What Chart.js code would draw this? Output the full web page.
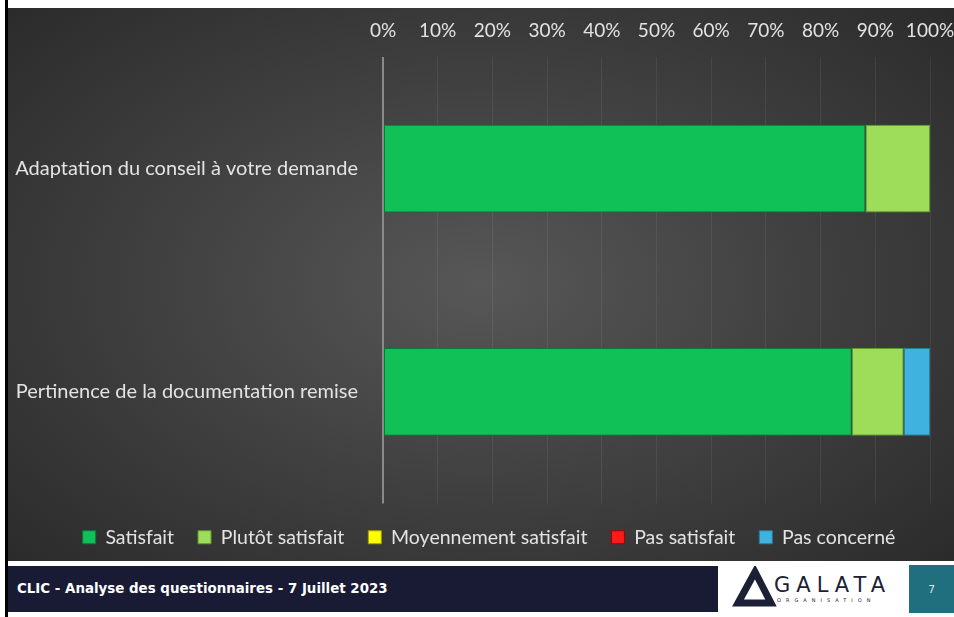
<!DOCTYPE html>
<html>
<head>
<meta charset="utf-8">
<script src="https://cdn.jsdelivr.net/npm/chart.js@4.4.1/dist/chart.umd.min.js"></script>
<style>
  html, body { margin: 0; padding: 0; background: #fff; }
  body { width: 954px; height: 617px; position: relative; overflow: hidden; }
  #edge { position: absolute; left: 5px; top: 0; width: 3px; height: 617px; background: #000; }
  #panel {
    position: absolute; left: 8px; top: 8px; width: 946px; height: 553px;
    background: radial-gradient(ellipse 70% 75% at 50% 50%, #575757 0%, #424242 45%, #2a2a2a 100%);
  }
  #panel canvas { position: absolute; left: 0; top: 0; }
  #footer {
    position: absolute; left: 8px; top: 566px; width: 710px; height: 46px;
    background: #181b33; color: #fff;
    font: bold 13.4px "DejaVu Sans", sans-serif; line-height: 46px; padding-left: 9px; box-sizing: border-box;
  }
  #logo { position: absolute; left: 730px; top: 566px; }
  #page {
    position: absolute; left: 909px; top: 565px; width: 45px; height: 48px;
    background: #1f6f7e; color: #fff; font: 10px "Open Sans", sans-serif;
    line-height: 48px; text-align: center;
  }
</style>
</head>
<body>
<div id="edge"></div>
<div id="panel"><canvas id="chart" width="946" height="553"></canvas></div>
<div id="footer">CLIC - Analyse des questionnaires - 7 Juillet 2023</div>
<svg id="logo" width="175" height="44" viewBox="0 0 175 44">
  <polygon points="25,6 8,37 41,37" fill="none" stroke="#1c2035" stroke-width="7" stroke-linejoin="miter"/>
  <text x="44" y="26" font-family="DejaVu Sans" font-size="21" fill="#1c2035" letter-spacing="6">GALATA</text>
  <text x="47" y="36" font-family="DejaVu Sans" font-size="5" fill="#1c2035" letter-spacing="5">ORGANISATION</text>
</svg>
<div id="page">7</div>
<script>
const categories = ['Adaptation du conseil à votre demande', 'Pertinence de la documentation remise'];
const seriesNames = ['Satisfait', 'Plutôt satisfait', 'Moyennement satisfait', 'Pas satisfait', 'Pas concerné'];
const satisfait = [88.2, 85.7];
const plutotSatisfait = [11.8, 9.5];
const moyennementSatisfait = [0, 0];
const pasSatisfait = [0, 0];
const pasConcerne = [0, 4.8];
const xTicks = [0, 10, 20, 30, 40, 50, 60, 70, 80, 90, 100];

const fills = ['#10c158', '#9ddd59', '#ffff00', '#ff1a1a', '#3fb2df'];
const edges = ['#0a7a3a', '#5f9a2e', '#a0a000', '#a00000', '#2a7d9c'];
const values = [satisfait, plutotSatisfait, moyennementSatisfait, pasSatisfait, pasConcerne];

const textColor = '#e3e3e3';
const font = 'Lato, "Open Sans", sans-serif';

// the slide's legend sits a bit right of the canvas centre
const legendShift = {
  id: 'legendShift',
  afterLayout(chart) {
    chart.legend.left += 20;
    chart.legend.right += 20;
  }
};

new Chart(document.getElementById('chart'), {
  type: 'bar',
  data: {
    labels: categories,
    datasets: seriesNames.map((name, i) => ({
      label: name,
      data: values[i],
      backgroundColor: fills[i],
      borderColor: edges[i],
      borderWidth: 1,
      borderSkipped: false,
      categoryPercentage: 1,
      barPercentage: 0.393
    }))
  },
  plugins: [legendShift],
  options: {
    indexAxis: 'y',
    responsive: false,
    animation: false,
    devicePixelRatio: 1,
    layout: { padding: { left: 0, right: 24, top: 0, bottom: 4 } },
    scales: {
      x: {
        position: 'top',
        stacked: true,
        min: 0,
        max: 100,
        afterBuildTicks: scale => { scale.ticks = xTicks.map(v => ({ value: v })); },
        afterFit: scale => {
          scale.height = 49;
          scale.paddingLeft = 0;
          scale.paddingRight = 0;
        },
        ticks: {
          color: textColor,
          padding: 15,
          font: { family: font, size: 19 },
          callback: v => v + '%'
        },
        grid: {
          drawTicks: false,
          color: ctx => ctx.index === 0 ? '#8a8a8a' : 'rgba(255,255,255,0.07)',
          lineWidth: ctx => ctx.index === 0 ? 2 : 1
        },
        border: { display: false }
      },
      y: {
        stacked: true,
        afterFit: scale => { scale.width = 375; },
        ticks: {
          color: textColor,
          padding: 25,
          font: { family: font, size: 20 }
        },
        grid: { display: false, drawTicks: false },
        border: { display: false }
      }
    },
    plugins: {
      legend: {
        position: 'bottom',
        labels: {
          color: textColor,
          boxWidth: 13,
          boxHeight: 13,
          padding: 24,
          font: { family: font, size: 19.5 }
        }
      },
      tooltip: { enabled: false }
    }
  }
});
</script>
</body>
</html>
